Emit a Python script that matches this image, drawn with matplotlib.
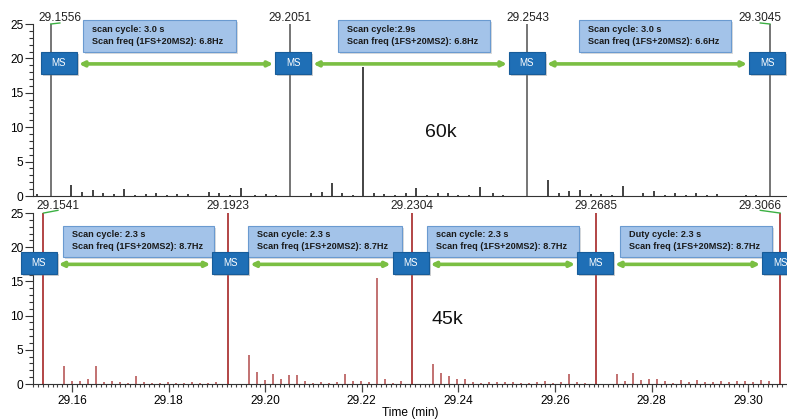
import numpy as np
import matplotlib.pyplot as plt
from matplotlib.patches import Rectangle

plt.rcParams['font.family'] = ['Liberation Sans', 'DejaVu Sans']

# ---- data ----
# MS1 (full scan) apex times, min
ms1_60k = [29.1556, 29.2051, 29.2543, 29.3045]
ms1_45k = [29.1541, 29.1923, 29.2304, 29.2685, 29.3066]
ms1_height = 25  # clipped at top of the axis

# MS2 scans, 60k panel
ms2_60k_t = [29.1527, 29.1599, 29.1621, 29.1643, 29.1664, 29.1687, 29.1708, 29.1730,
             29.1753, 29.1774, 29.1796, 29.1817, 29.1840, 29.1861, 29.1884, 29.1905,
             29.1927, 29.1950, 29.1979, 29.2001, 29.2022,
             29.2095, 29.2117, 29.2138, 29.2160, 29.2181, 29.2203, 29.2225, 29.2247,
             29.2269, 29.2291, 29.2313, 29.2335, 29.2357, 29.2378, 29.2400, 29.2422,
             29.2444, 29.2471, 29.2493, 29.2515,
             29.2586, 29.2609, 29.2630, 29.2652, 29.2674, 29.2696, 29.2718, 29.2740,
             29.2761, 29.2783, 29.2805, 29.2827, 29.2849, 29.2871, 29.2892, 29.2914,
             29.2936, 29.2973, 29.2995, 29.3017]
ms2_60k_h = [0.35, 1.55, 0.6, 0.9, 0.45, 0.3, 1.0, 0.1,
             0.3, 0.45, 0.2, 0.25, 0.3, 0.05, 0.6, 0.45,
             0.1, 1.1, 0.2, 0.3, 0.2,
             0.45, 0.6, 1.9, 0.45, 0.2, 18.8, 0.45, 0.3,
             0.2, 0.45, 1.2, 0.1, 0.4, 0.45, 0.1, 0.2,
             1.25, 0.5, 0.2, 0.05,
             2.35, 0.4, 0.8, 0.85, 0.3, 0.3, 0.1, 1.5,
             0.05, 0.45, 0.75, 0.1, 0.4, 0.2, 0.4, 0.2,
             0.3, 0.05, 0.1, 0.2]

# MS2 scans, 45k panel
ms2_45k_t = [29.1583, 29.1600, 29.1617, 29.1633, 29.1650, 29.1666, 29.1683, 29.1699,
             29.1716, 29.1733, 29.1749, 29.1766, 29.1782, 29.1799, 29.1815, 29.1832,
             29.1849, 29.1865, 29.1882, 29.1898,
             29.1966, 29.1983, 29.1999, 29.2016, 29.2032, 29.2049, 29.2065, 29.2082,
             29.2098, 29.2115, 29.2132, 29.2148, 29.2165, 29.2181, 29.2198, 29.2214,
             29.2231, 29.2248, 29.2264, 29.2281,
             29.2347, 29.2364, 29.2380, 29.2397, 29.2413, 29.2430, 29.2446, 29.2463,
             29.2480, 29.2496, 29.2513, 29.2529, 29.2546, 29.2562, 29.2579, 29.2596,
             29.2612, 29.2629, 29.2646, 29.2662,
             29.2729, 29.2745, 29.2762, 29.2778, 29.2795, 29.2812, 29.2828, 29.2845,
             29.2861, 29.2878, 29.2894, 29.2911, 29.2928, 29.2944, 29.2961, 29.2977,
             29.2994, 29.3010, 29.3027, 29.3043]
ms2_45k_h = [2.6, 0.45, 0.4, 0.7, 2.6, 0.25, 0.45, 0.3,
             0.15, 1.2, 0.3, 0.2, 0.15, 0.25, 0.2, 0.15,
             0.3, 0.2, 0.15, 0.3,
             4.2, 1.75, 0.6, 1.45, 0.8, 1.35, 1.25, 0.4,
             0.2, 0.3, 0.2, 0.3, 1.4, 0.45, 0.4, 0.25,
             15.5, 0.75, 0.15, 0.45,
             2.9, 1.6, 1.2, 0.75, 0.7, 0.25, 0.2, 0.3,
             0.35, 0.3, 0.3, 0.15, 0.2, 0.25, 0.45, 0.2,
             0.3, 1.5, 0.25, 0.15,
             1.45, 0.5, 1.65, 0.55, 0.7, 0.75, 0.45, 0.2,
             0.65, 0.25, 0.55, 0.3, 0.3, 0.45, 0.25, 0.45,
             0.5, 0.3, 0.6, 0.45]

box_text_60k = ["scan cycle: 3.0 s\nScan freq (1FS+20MS2): 6.8Hz",
                "Scan cycle:2.9s\nScan freq (1FS+20MS2): 6.8Hz",
                "Scan cycle: 3.0 s\nScan freq (1FS+20MS2): 6.6Hz"]
box_text_45k = ["Scan cycle: 2.3 s\nScan freq (1FS+20MS2): 8.7Hz",
                "Scan cycle: 2.3 s\nScan freq (1FS+20MS2): 8.7Hz",
                "scan cycle: 2.3 s\nScan freq (1FS+20MS2): 8.7Hz",
                "Duty cycle: 2.3 s\nScan freq (1FS+20MS2): 8.7Hz"]

# ---- layout (annotation placement) ----
PX = 1 / 4830.0            # minutes per pixel
XMIN, XMAX = 29.15193, 29.30803

panels = [
    dict(ms1=ms1_60k, t=ms2_60k_t, h=ms2_60k_h, texts=box_text_60k, tag="60k",
         main_c="#505050", small_c="#111111",
         ms_box_x=[29.1573, 29.2058, 29.2542, 29.3039], ms_y=(17.73, 20.93), arrow_y=19.2,
         box_x=[(29.1623, 29.1940), (29.2151, 29.2466), (29.2650, 29.2965)],
         box_y=(20.93, 25.58), lab_x=[29.1575, 29.2051, 29.2543, 29.3025], lab_off=0.0,
         link_dy=0.15, tag_xy=(29.2363, 9.3), pos=[0.0419, 0.5322, 0.9581, 0.4105]),
    dict(ms1=ms1_45k, t=ms2_45k_t, h=ms2_45k_h, texts=box_text_45k, tag="45k",
         main_c="#9e1414", small_c="#b24a4a",
         ms_box_x=[29.1531, 29.1928, 29.2301, 29.2683, 29.3066], ms_y=(16.08, 19.3),
         arrow_y=17.5,
         box_x=[(29.1581, 29.1894), (29.1964, 29.2283), (29.2335, 29.2650),
                (29.2735, 29.3050)],
         box_y=(18.57, 23.1), lab_x=[29.1571, 29.1923, 29.2304, 29.2685, 29.3025],
         lab_off=0.5, link_dy=0.4, tag_xy=(29.2378, 9.5),
         pos=[0.0419, 0.0835, 0.9581, 0.408]),
]

fig = plt.figure(figsize=(7.87, 4.19), dpi=100)

for i, p in enumerate(panels):
    ax = fig.add_axes(p["pos"])
    ax.set_xlim(XMIN, XMAX)
    ax.set_ylim(0, 25)
    for s in ("top", "right"):
        ax.spines[s].set_visible(False)
    ax.spines["left"].set_color("#333333")
    ax.spines["bottom"].set_color("#333333")

    # spectra sticks
    ax.vlines(p["t"], 0, p["h"], color=p["small_c"], lw=1.1)
    ax.vlines(p["ms1"], 0, ms1_height, color=p["main_c"], lw=1.1)

    # y axis ticks
    ax.set_yticks([0, 5, 10, 15, 20, 25])
    ax.set_yticks(np.arange(0, 26, 1), minor=True)
    ax.tick_params(axis="y", which="major", length=6, width=0.8, labelsize=8.6, pad=1,
                   color="#333333")
    ax.tick_params(axis="y", which="minor", length=3, width=0.8, color="#333333")

    if i == 0:
        ax.set_xticks([])
    else:
        ax.set_xticks(np.arange(29.16, 29.301, 0.02))
        ax.set_xticklabels([f"{v:.2f}" for v in np.arange(29.16, 29.301, 0.02)])
        ax.set_xticks(np.arange(29.152, 29.3085, 0.001), minor=True)
        ax.tick_params(axis="x", which="major", length=6, width=0.9, labelsize=8.6, pad=2,
                       color="#444444")
        ax.tick_params(axis="x", which="minor", length=2.5, width=0.8, color="#444444")
        ax.set_xlabel("Time (min)", fontsize=8.6, labelpad=0)

    # peak labels above the MS1 scans, with a green leader where shifted
    for t, lx in zip(p["ms1"], p["lab_x"]):
        ax.annotate(f"{t:.4f}", xy=(lx, 25), xytext=(0, p["lab_off"]),
                    textcoords="offset points", ha="center", va="bottom",
                    fontsize=8.6, color="#222222", annotation_clip=False)
        if abs(lx - t) > 1e-6:
            ax.plot([t, lx], [25, 25 + p["link_dy"]], color="#3cb043", lw=1,
                    clip_on=False)

    # scan-cycle text boxes
    for (x0, x1), txt in zip(p["box_x"], p["texts"]):
        y0, y1 = p["box_y"]
        ax.add_patch(Rectangle((x0 + 2 * PX, y0 - 0.3), x1 - x0, y1 - y0,
                               facecolor="#888888", alpha=0.3, lw=0,
                               clip_on=False, zorder=4))
        ax.add_patch(Rectangle((x0, y0), x1 - x0, y1 - y0, facecolor="#a3c3e9",
                               edgecolor="#6a9ad0", lw=0.8, clip_on=False, zorder=5))
        ax.text(x0 + 9 * PX, (y0 + y1) / 2 + 0.1, txt, ha="left", va="center",
                fontsize=6.6, fontweight="bold", color="#1a1a1a", linespacing=1.45,
                zorder=6, clip_on=False)

    # MS boxes and double arrows between them
    hw = 18 * PX
    y0, y1 = p["ms_y"]
    for cx in p["ms_box_x"]:
        ax.add_patch(Rectangle((cx - hw + 2 * PX, y0 - 0.3), 2 * hw, y1 - y0,
                               facecolor="#777777", alpha=0.35, lw=0,
                               clip_on=False, zorder=4))
        ax.add_patch(Rectangle((cx - hw, y0), 2 * hw, y1 - y0, facecolor="#1f6fb6",
                               edgecolor="#175c99", lw=0.8, clip_on=False, zorder=5))
        ax.text(cx, (y0 + y1) / 2, "MS", ha="center", va="center", fontsize=7,
                color="white", zorder=6, clip_on=False)
    for a, b in zip(p["ms_box_x"][:-1], p["ms_box_x"][1:]):
        ax.annotate("", xy=(b - hw - 2 * PX, p["arrow_y"]),
                    xytext=(a + hw + 2 * PX, p["arrow_y"]),
                    arrowprops=dict(arrowstyle="<|-|>", color="#7bbf43", lw=2.6,
                                    mutation_scale=7, shrinkA=0, shrinkB=0),
                    zorder=5)

    ax.text(p["tag_xy"][0], p["tag_xy"][1], p["tag"], ha="center", va="center",
            fontsize=14, color="#111111")

fig.savefig("out.png", dpi=100)
